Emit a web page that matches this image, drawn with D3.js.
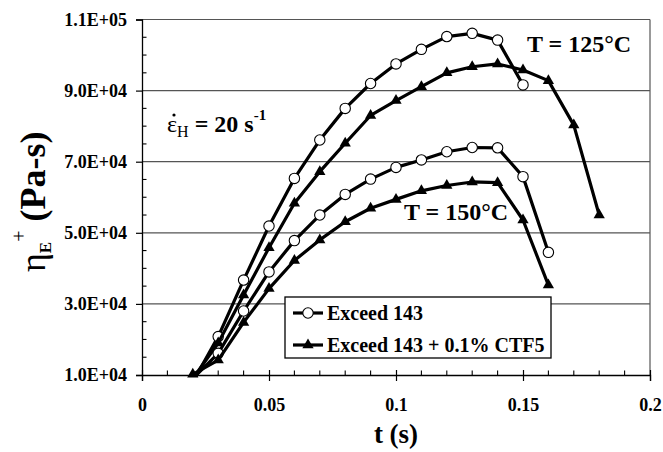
<!DOCTYPE html>
<html><head><meta charset="utf-8">
<script src="https://cdn.jsdelivr.net/npm/d3@7"></script>
<style>
body{margin:0;background:#fff}
svg{display:block}
text{font-family:"Liberation Serif","Times New Roman",serif}
</style>
</head><body>
<svg id="chart" width="663" height="452"></svg>
<script>
// Axis ticks
const timeTicks = [0, 0.05, 0.1, 0.15, 0.2];
const timeTickLabels = ["0", "0.05", "0.1", "0.15", "0.2"];
const etaTicks = [1e4, 3e4, 5e4, 7e4, 9e4, 1.1e5];
const etaTickLabels = ["1.0E+04", "3.0E+04", "5.0E+04", "7.0E+04", "9.0E+04", "1.1E+05"];

// Transient elongational viscosity, Exceed 143, T = 125°C
const tExceed125 = [0.02, 0.03, 0.04, 0.05, 0.06, 0.07, 0.08, 0.09, 0.10, 0.11, 0.12, 0.13, 0.14, 0.15];
const etaExceed125 = [8000, 20800, 36700, 51900, 65300, 76100, 85000, 92000, 97500, 101600, 105200, 106100, 104200, 91600];
// Exceed 143 + 0.1% CTF5, T = 125°C
const tBlend125 = [0.02, 0.03, 0.04, 0.05, 0.06, 0.07, 0.08, 0.09, 0.10, 0.11, 0.12, 0.13, 0.14, 0.15, 0.16, 0.17, 0.18];
const etaBlend125 = [9000, 19000, 32500, 45800, 58300, 67200, 75200, 83000, 87200, 91100, 95000, 96700, 97500, 95800, 92800, 80300, 55000];
// Exceed 143, T = 150°C
const tExceed150 = [0.02, 0.03, 0.04, 0.05, 0.06, 0.07, 0.08, 0.09, 0.10, 0.11, 0.12, 0.13, 0.14, 0.15, 0.16];
const etaExceed150 = [9000, 16100, 28000, 39000, 47800, 55000, 60800, 65100, 68400, 70500, 72800, 74000, 73900, 65800, 44500];
// Exceed 143 + 0.1% CTF5, T = 150°C
const tBlend150 = [0.02, 0.03, 0.04, 0.05, 0.06, 0.07, 0.08, 0.09, 0.10, 0.11, 0.12, 0.13, 0.14, 0.15, 0.16];
const etaBlend150 = [10200, 14200, 24800, 34300, 42200, 48000, 53100, 56900, 59400, 61800, 63300, 64300, 64100, 53600, 35300];

const legendLabels = ["Exceed 143", "Exceed 143 + 0.1% CTF5"];

const svg = d3.select("#chart");
const x = d3.scaleLinear().domain([0, 0.2]).range([142, 650]);
const y = d3.scaleLinear().domain([1e4, 1.1e5]).range([375, 19.5]);

// lines stop at the plot area
svg.append("defs").append("clipPath").attr("id", "plotClip")
  .append("rect").attr("x", x(0)).attr("y", y(1.1e5) - 2)
  .attr("width", x(0.2) - x(0)).attr("height", y(1e4) - y(1.1e5) + 4);

// plot frame and gridlines
const grid = svg.append("g");
grid.selectAll("line.grid").data(etaTicks.slice(1)).join("line")
  .attr("x1", x(0)).attr("x2", x(0.2))
  .attr("y1", d => y(d)).attr("y2", d => y(d))
  .attr("stroke", "#555").attr("stroke-width", 1.2);
grid.append("line").attr("x1", x(0.2)).attr("x2", x(0.2))
  .attr("y1", y(1.1e5)).attr("y2", y(1e4)).attr("stroke", "#555").attr("stroke-width", 1.2);

// y axis
const yAxis = d3.axisLeft(y).tickValues(etaTicks).tickFormat((d, i) => etaTickLabels[i]).tickSize(6).tickPadding(9);
const gy = svg.append("g").attr("transform", `translate(${x(0)},0)`).call(yAxis);
gy.select(".domain").attr("stroke", "#000").attr("stroke-width", 1.3);
gy.selectAll(".tick line").attr("stroke", "#000").attr("stroke-width", 1.2);
gy.selectAll(".tick text").attr("font-size", 18).attr("font-weight", "bold")
  .attr("font-family", "Liberation Serif, serif").attr("fill", "#000");
const yMinor = d3.range(1.5e4, 1.1e5, 5e3).filter(v => !etaTicks.some(t => Math.abs(t - v) < 1));
svg.append("g").selectAll("line").data(yMinor).join("line")
  .attr("x1", x(0)).attr("x2", x(0) + 4.5)
  .attr("y1", d => y(d)).attr("y2", d => y(d))
  .attr("stroke", "#000").attr("stroke-width", 1.1);

// x axis
const xAxis = d3.axisBottom(x).tickValues(timeTicks).tickFormat((d, i) => timeTickLabels[i]).tickSize(6).tickPadding(17);
const gx = svg.append("g").attr("transform", `translate(0,${y(1e4)})`).call(xAxis);
gx.select(".domain").attr("stroke", "#000").attr("stroke-width", 1.3);
gx.selectAll(".tick line").attr("stroke", "#000").attr("stroke-width", 1.2).attr("y1", -5);
gx.selectAll(".tick text").attr("font-size", 18).attr("font-weight", "bold")
  .attr("font-family", "Liberation Serif, serif").attr("fill", "#000");
const xMinor = d3.range(0.01, 0.2, 0.01).filter(v => !timeTicks.some(t => Math.abs(t - v) < 1e-6));
svg.append("g").selectAll("line").data(xMinor).join("line")
  .attr("x1", d => x(d)).attr("x2", d => x(d))
  .attr("y1", y(1e4)).attr("y2", y(1e4) - 4.5)
  .attr("stroke", "#000").attr("stroke-width", 1.1);

// series
const series = [
  {t: tExceed125, v: etaExceed125, marker: "circle"},
  {t: tBlend125, v: etaBlend125, marker: "triangle"},
  {t: tExceed150, v: etaExceed150, marker: "circle"},
  {t: tBlend150, v: etaBlend150, marker: "triangle"}
];
const line = d3.line().x(d => x(d[0])).y(d => y(d[1]));
const triangle = d3.symbol().type(d3.symbolTriangle).size(55);

function drawMarker(g, type, cx, cy) {
  if (type === "circle") {
    g.append("circle").attr("cx", cx).attr("cy", cy).attr("r", 5.2)
      .attr("fill", "#fff").attr("stroke", "#000").attr("stroke-width", 1.1);
  } else {
    g.append("path").attr("d", triangle()).attr("transform", `translate(${cx},${cy})`)
      .attr("fill", "#000");
  }
}

series.forEach(s => {
  const pts = s.t.map((t, i) => [t, s.v[i]]);
  const g = svg.append("g");
  g.append("path").attr("d", line(pts)).attr("fill", "none").attr("clip-path", "url(#plotClip)")
    .attr("stroke", "#000").attr("stroke-width", 3.2).attr("stroke-linejoin", "round");
  // markers only for points inside the axis range
  pts.filter(p => p[1] >= 1e4 && p[1] <= 1.1e5)
    .forEach(p => drawMarker(g, s.marker, x(p[0]), y(p[1])));
});

// annotations
svg.append("text").attr("x", 527).attr("y", 52).attr("font-size", 24).attr("font-weight", "bold").text("T = 125°C");
svg.append("text").attr("x", 404).attr("y", 220).attr("font-size", 24).attr("font-weight", "bold").text("T = 150°C");

const rate = svg.append("text").attr("x", 167).attr("y", 132).attr("font-size", 24);
rate.append("tspan").text("ε");
rate.append("tspan").attr("font-size", 16).attr("dy", 5).text("H");
rate.append("tspan").attr("font-weight", "bold").attr("dy", -5).text(" = 20 s");
rate.append("tspan").attr("font-weight", "bold").attr("font-size", 15).attr("dy", -12).text("-1");
// dot over the epsilon (time derivative)
svg.append("circle").attr("cx", 174).attr("cy", 115).attr("r", 1.6).attr("fill", "#000");

// legend
const lg = svg.append("g");
lg.append("rect").attr("x", 285).attr("y", 297).attr("width", 266).attr("height", 61)
  .attr("fill", "#fff").attr("stroke", "#000").attr("stroke-width", 1.3);
const rows = [313, 345];
["circle", "triangle"].forEach((m, i) => {
  lg.append("line").attr("x1", 293).attr("x2", 323).attr("y1", rows[i]).attr("y2", rows[i])
    .attr("stroke", "#000").attr("stroke-width", 3.2);
  drawMarker(lg, m, 308, rows[i]);
  lg.append("text").attr("x", 327).attr("y", rows[i] + 7).attr("font-size", 20)
    .attr("font-weight", "bold").text(legendLabels[i]);
});

// axis titles
svg.append("text").attr("x", 396).attr("y", 443).attr("text-anchor", "middle")
  .attr("font-size", 27).attr("font-weight", "bold").text("t (s)");
const yt = svg.append("text").attr("transform", "translate(45,272) rotate(-90)").attr("font-size", 36);
yt.append("tspan").text("η");
yt.append("tspan").attr("font-size", 17).attr("font-weight", "bold").attr("dy", 6).text("E");
yt.append("tspan").attr("font-size", 20).attr("dy", -25).text("+");
yt.append("tspan").attr("font-weight", "bold").attr("dy", 19).text(" (Pa-s)");
</script>
</body></html>
